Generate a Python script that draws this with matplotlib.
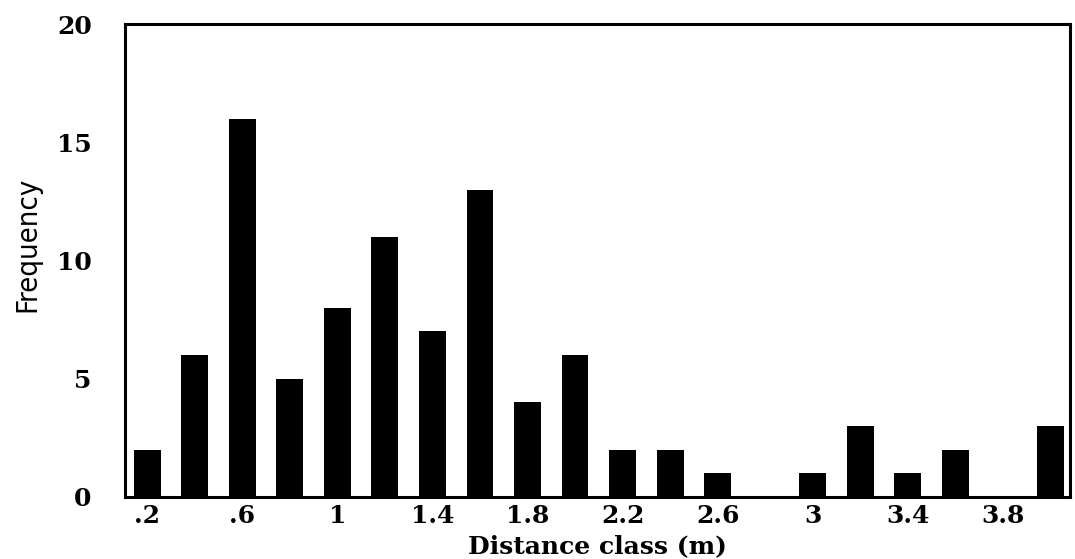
import matplotlib.pyplot as plt
import numpy as np

# distance classes (m) and frequency of each class
distance_class = [0.2, 0.4, 0.6, 0.8, 1.0, 1.2, 1.4, 1.6, 1.8, 2.0,
                  2.2, 2.4, 2.6, 2.8, 3.0, 3.2, 3.4, 3.6, 3.8, 4.0]
frequency = [2, 6, 16, 5, 8, 11, 7, 13, 4, 6,
             2, 2, 1, 0, 1, 3, 1, 2, 0, 3]
tick_pos = [0.2, 0.6, 1.0, 1.4, 1.8, 2.2, 2.6, 3.0, 3.4, 3.8]
tick_labels = ['.2', '.6', '1', '1.4', '1.8', '2.2', '2.6', '3', '3.4', '3.8']
y_ticks = [0, 5, 10, 15, 20]

fig = plt.figure(figsize=(10.75, 5.59), dpi=100)
ax = fig.add_axes([0.1163, 0.111, 0.879, 0.846])

ax.bar(distance_class, frequency, width=0.113, color='black')

ax.set_xlim(0.107, 4.082)
ax.set_ylim(0, 20)
ax.set_xticks(tick_pos)
ax.set_xticklabels(tick_labels, family='DejaVu Serif', fontsize=18, fontweight='semibold')
ax.set_yticks(y_ticks)
ax.set_yticklabels([str(v) for v in y_ticks], family='DejaVu Serif', fontsize=18, fontweight='semibold')
ax.tick_params(axis='x', length=0, pad=5)
ax.tick_params(axis='y', length=0, pad=24)

for s in ax.spines.values():
    s.set_linewidth(2.2)

ax.set_ylabel('Frequency', family='DejaVu Sans', stretch='condensed', fontsize=21)
ax.yaxis.set_label_coords(-0.088, 0.535)
ax.set_xlabel('Distance class (m)', family='DejaVu Serif', fontsize=18, fontweight='bold')
ax.xaxis.set_label_coords(0.5, -0.078)

plt.savefig('out.png', dpi=100)
